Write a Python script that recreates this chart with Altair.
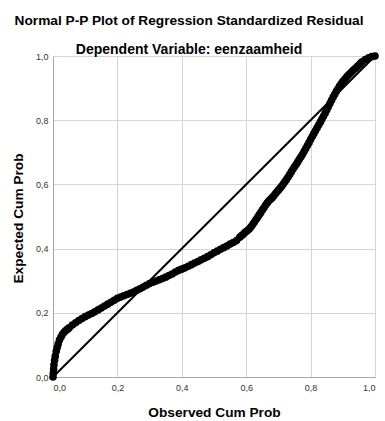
import altair as alt
import pandas as pd

# Observed cumulative probability (x) and expected cumulative probability (y)
obs_cum = [0.000, 0.001, 0.002, 0.003, 0.005, 0.007, 0.010, 0.013, 0.016, 0.020,
           0.025, 0.030, 0.035, 0.040, 0.045, 0.050, 0.06, 0.07, 0.08, 0.09,
           0.10, 0.11, 0.12, 0.13, 0.14, 0.15, 0.16, 0.17, 0.18, 0.19,
           0.20, 0.21, 0.22, 0.23, 0.24, 0.25, 0.26, 0.27, 0.28, 0.29,
           0.30, 0.31, 0.32, 0.33, 0.34, 0.35, 0.36, 0.37, 0.38, 0.39,
           0.40, 0.41, 0.42, 0.43, 0.44, 0.45, 0.46, 0.47, 0.48, 0.49,
           0.50, 0.51, 0.52, 0.53, 0.54, 0.55, 0.56, 0.57, 0.58, 0.59,
           0.60, 0.61, 0.62, 0.63, 0.64, 0.65, 0.66, 0.67, 0.68, 0.69,
           0.70, 0.71, 0.72, 0.73, 0.74, 0.75, 0.76, 0.77, 0.78, 0.79,
           0.80, 0.81, 0.82, 0.83, 0.84, 0.85, 0.86, 0.87, 0.88, 0.89,
           0.90, 0.91, 0.92, 0.93, 0.94, 0.95, 0.96, 0.97, 0.98, 0.99, 1.00]
exp_cum = [0.000, 0.012, 0.025, 0.038, 0.052, 0.065, 0.080, 0.092, 0.103, 0.115,
           0.125, 0.134, 0.140, 0.145, 0.149, 0.153, 0.162, 0.169, 0.176, 0.182,
           0.188, 0.193, 0.198, 0.203, 0.209, 0.215, 0.221, 0.227, 0.233, 0.239,
           0.245, 0.249, 0.253, 0.257, 0.261, 0.265, 0.270, 0.275, 0.280, 0.286,
           0.291, 0.295, 0.299, 0.303, 0.307, 0.311, 0.316, 0.321, 0.327, 0.332,
           0.336, 0.340, 0.345, 0.350, 0.355, 0.360, 0.365, 0.370, 0.375, 0.381,
           0.387, 0.392, 0.398, 0.403, 0.408, 0.414, 0.419, 0.425, 0.435, 0.444,
           0.453, 0.462, 0.475, 0.490, 0.505, 0.520, 0.535, 0.548, 0.558, 0.570,
           0.582, 0.594, 0.608, 0.623, 0.639, 0.655, 0.670, 0.686, 0.703, 0.721,
           0.740, 0.758, 0.776, 0.794, 0.812, 0.832, 0.852, 0.872, 0.890, 0.906,
           0.920, 0.932, 0.943, 0.953, 0.962, 0.972, 0.982, 0.989, 0.994, 0.998, 1.000]

# Extra readings on the steep upper stretch, where the cases lie further apart
obs_cum_steep = [0.585, 0.595, 0.605, 0.615, 0.625, 0.635, 0.645, 0.655, 0.665, 0.675,
                 0.685, 0.695, 0.705, 0.715, 0.725, 0.735, 0.745, 0.755, 0.765, 0.775,
                 0.785, 0.795, 0.805, 0.815, 0.825, 0.835, 0.845, 0.855, 0.865, 0.875,
                 0.885, 0.895, 0.905, 0.915, 0.925, 0.935, 0.945, 0.955]
exp_cum_steep = [0.440, 0.449, 0.457, 0.468, 0.482, 0.497, 0.512, 0.527, 0.542, 0.553,
                 0.564, 0.576, 0.588, 0.601, 0.615, 0.631, 0.647, 0.662, 0.678, 0.694,
                 0.712, 0.730, 0.749, 0.767, 0.785, 0.803, 0.822, 0.842, 0.862, 0.881,
                 0.898, 0.913, 0.926, 0.938, 0.948, 0.958, 0.967, 0.977]

diag_x = [0.0, 1.0]
diag_y = [0.0, 1.0]
tick_vals = [0.0, 0.2, 0.4, 0.6, 0.8, 1.0]

pts = pd.DataFrame({"obs": obs_cum + obs_cum_steep, "exp": exp_cum + exp_cum_steep})
diag = pd.DataFrame({"obs": diag_x, "exp": diag_y})

FONT = "Liberation Sans"
label_expr = "replace(format(datum.value, '.1f'), '.', ',')"

x_enc = alt.X("obs:Q", scale=alt.Scale(domain=[0, 1], nice=False),
              axis=alt.Axis(values=tick_vals, title="Observed Cum Prob",
                            labelExpr=label_expr, labelFont=FONT, labelFontSize=9,
                            labelColor="#333333", labelPadding=6,
                            ticks=False, tickSize=0,
                            titleFont=FONT, titleFontSize=13.7, titleFontWeight="bold",
                            titleColor="black", titleY=35, titleBaseline="middle",
                            grid=True, gridColor="#d4d4d4", gridWidth=1,
                            domainColor="#a6a6a6", domainWidth=1))
y_enc = alt.Y("exp:Q", scale=alt.Scale(domain=[0, 1], nice=False),
              axis=alt.Axis(values=tick_vals, title="Expected Cum Prob",
                            labelExpr=label_expr, labelFont=FONT, labelFontSize=9,
                            labelColor="#333333", labelPadding=5,
                            ticks=False, tickSize=0,
                            titleFont=FONT, titleFontSize=13.7, titleFontWeight="bold",
                            titleColor="black", titleAngle=270, titleX=-35, titleY=162,
                            titleAlign="center", titleBaseline="middle",
                            grid=True, gridColor="#d4d4d4", gridWidth=1,
                            domainColor="#a6a6a6", domainWidth=1))

points = alt.Chart(pts).mark_circle(color="black", size=58, opacity=1).encode(
    x=x_enc, y=y_enc)

line = alt.Chart(diag).mark_line(color="black", strokeWidth=2).encode(
    x="obs:Q", y="exp:Q")

chart = alt.layer(points, line).properties(
    width=322, height=321,
    autosize=alt.AutoSizeParams(type="none"),
    padding={"left": 53, "top": 56, "right": 10, "bottom": 44},
    title=alt.TitleParams(
        text="Normal P-P Plot of Regression Standardized Residual",
        subtitle="Dependent Variable: eenzaamheid",
        font=FONT, fontSize=13.7, fontWeight="bold", color="black",
        subtitleFont=FONT, subtitleFontSize=14, subtitleFontWeight="bold",
        subtitleColor="black", subtitlePadding=15,
        anchor="middle", frame="group", dx=-25, offset=-4.5),
).configure_view(stroke=None).configure(background="white")

chart.save("out.html", embed_options={"renderer": "svg", "actions": False})
